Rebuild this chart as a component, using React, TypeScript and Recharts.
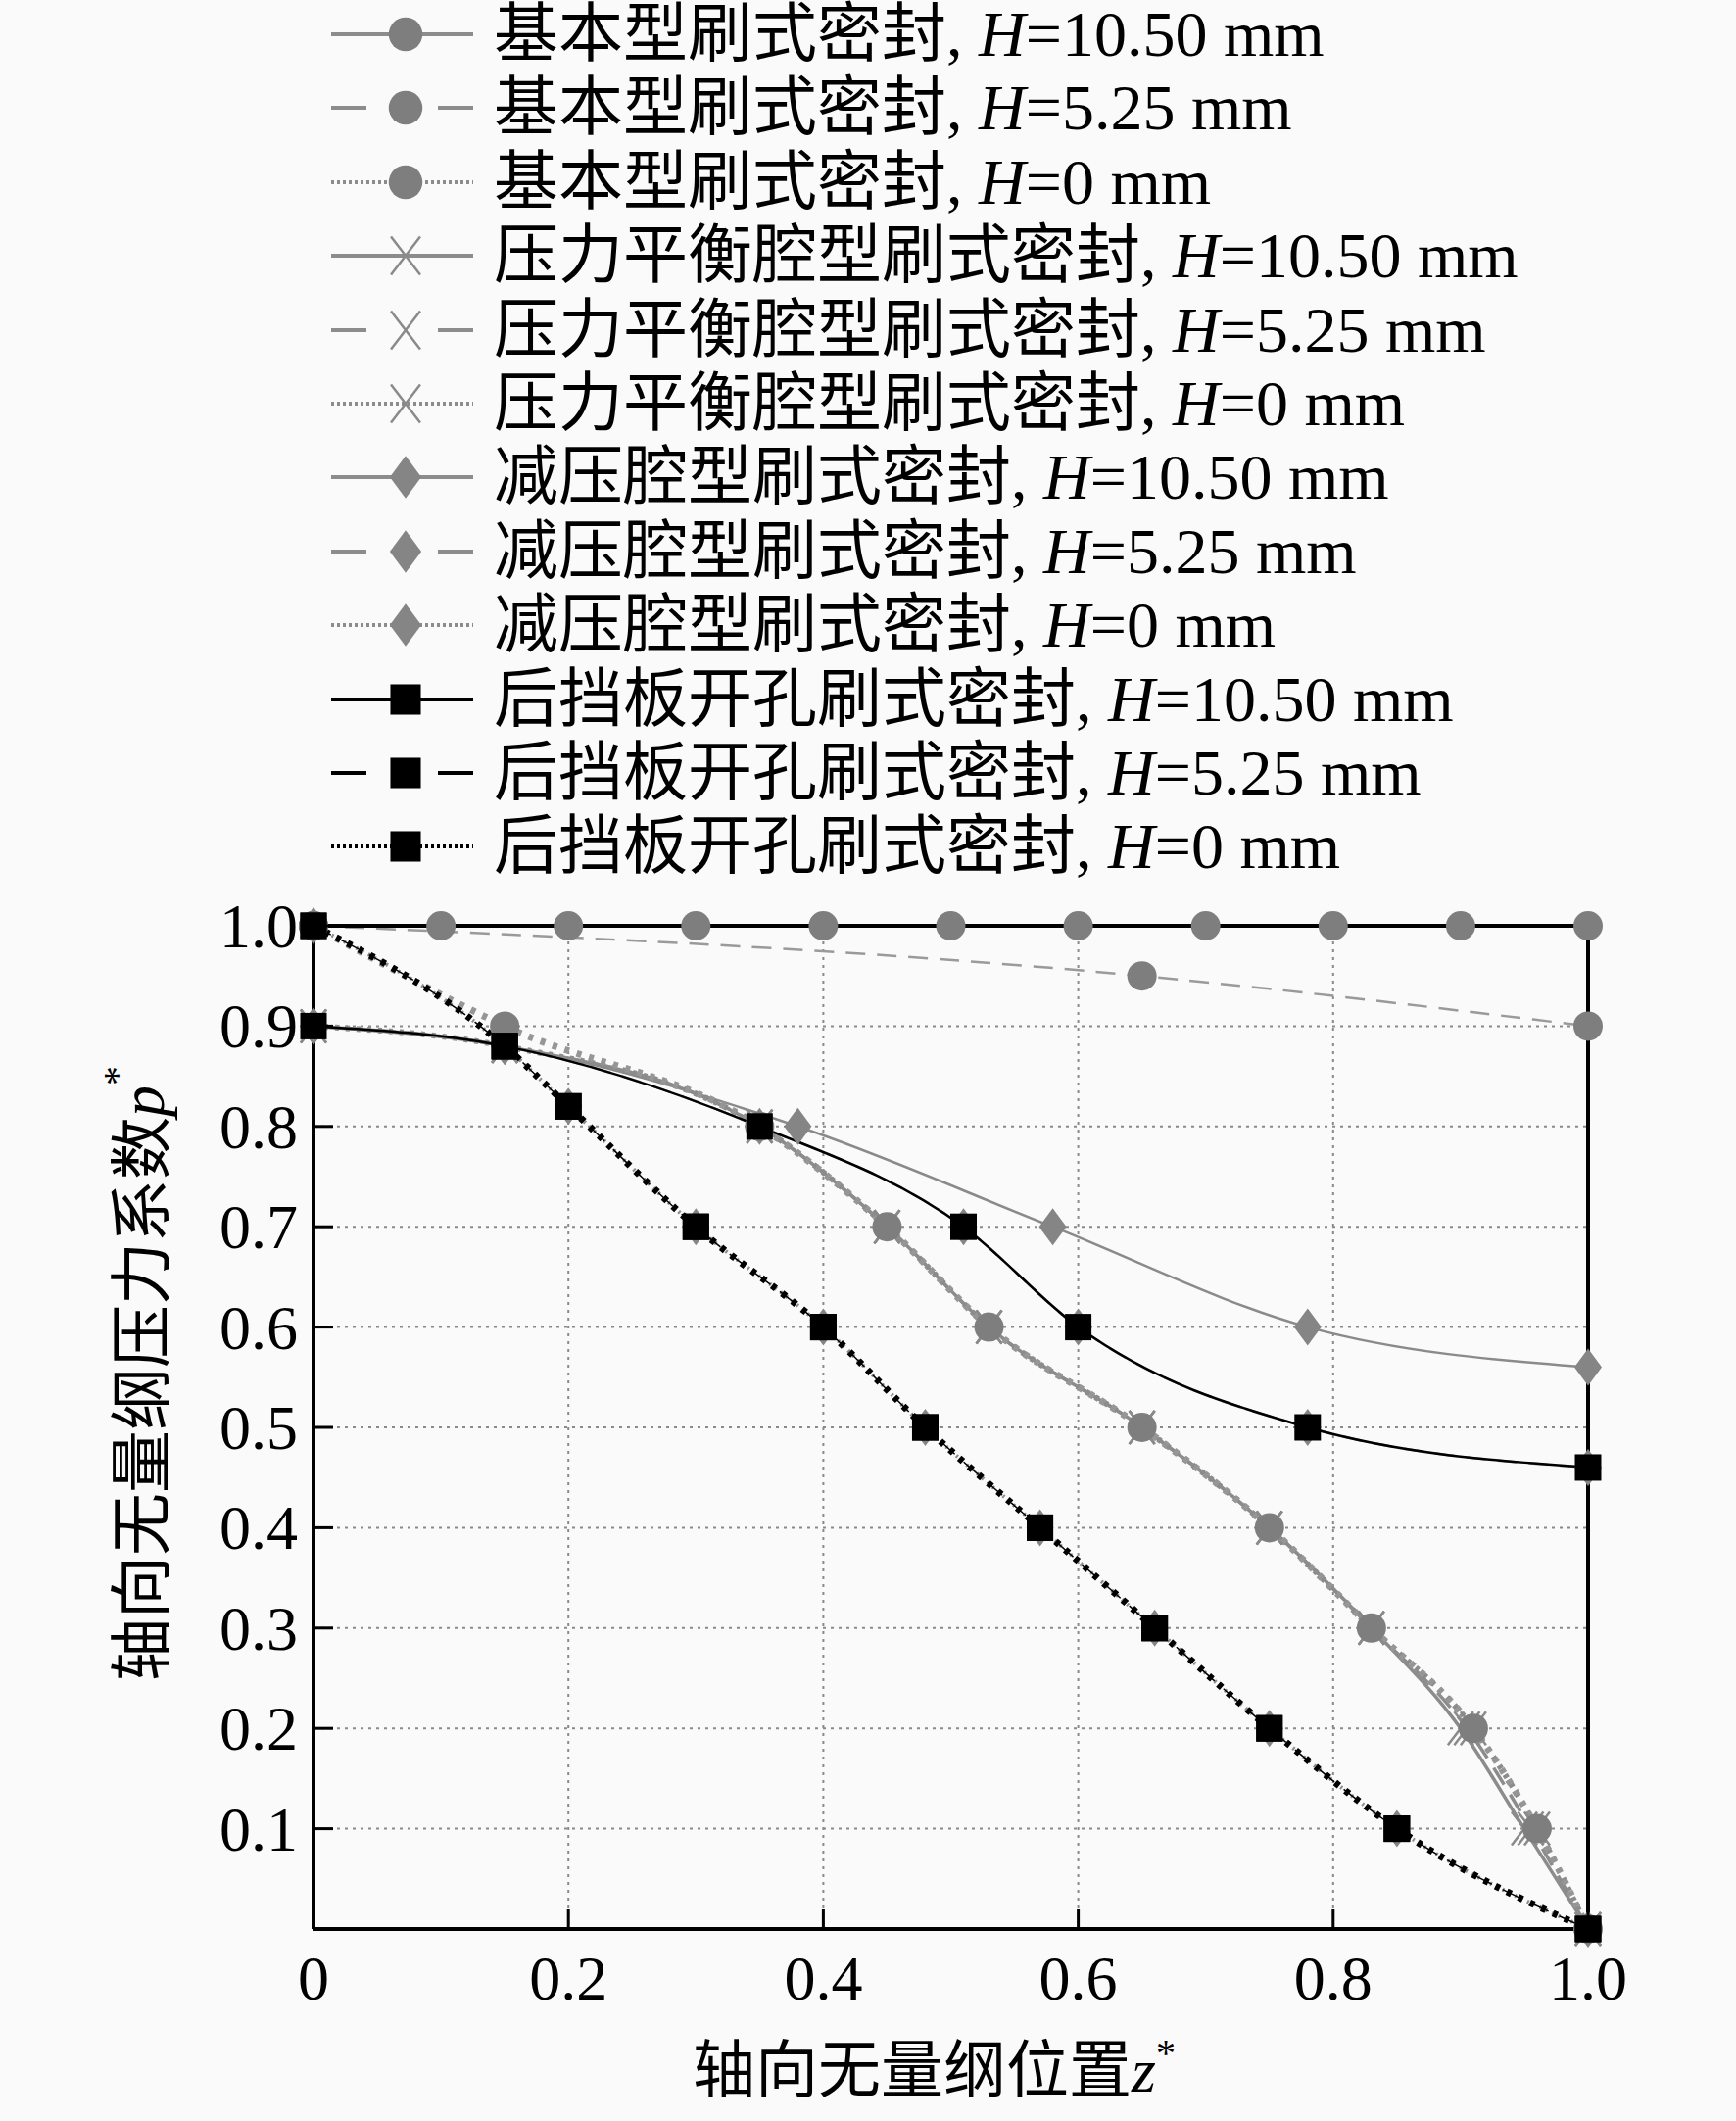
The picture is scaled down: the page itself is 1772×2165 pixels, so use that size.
import React from "react";
import {
  CartesianGrid,
  Label,
  Line,
  LineChart,
  ReferenceLine,
  XAxis,
  YAxis,
} from "recharts";

const FONT = "'Liberation Serif', 'Noto Sans CJK SC', serif";
const GRAY = "#7e7e7e";
const GRAY_LINE = "#8c8c8c";
const BLACK = "#000000";

// axis ticks
const xTicks = [0, 0.2, 0.4, 0.6, 0.8, 1.0];
const yTicks = [0.1, 0.2, 0.3, 0.4, 0.5, 0.6, 0.7, 0.8, 0.9, 1.0];

// 基本型刷式密封
const basic1050Z = [0, 0.1, 0.2, 0.3, 0.4, 0.5, 0.6, 0.7, 0.8, 0.9, 1.0];
const basic1050P = [1, 1, 1, 1, 1, 1, 1, 1, 1, 1, 1];
const basic525Z = [0, 0.65, 1.0];
const basic525P = [1, 0.95, 0.9];
const basic0Z = [0, 0.15, 0.35, 0.45, 0.53, 0.65, 0.75, 0.83, 0.91, 0.96, 1.0];
const basic0P = [1, 0.9, 0.8, 0.7, 0.6, 0.5, 0.4, 0.3, 0.2, 0.1, 0];

// 压力平衡腔型刷式密封
const balance1050Z = [0, 0.15, 0.35, 0.45, 0.53, 0.65, 0.75, 0.83, 0.9, 0.95, 1.0];
const balance1050P = [0.9, 0.88, 0.8, 0.7, 0.6, 0.5, 0.4, 0.3, 0.2, 0.1, 0];
const balance525Z = [0, 0.15, 0.35, 0.45, 0.53, 0.65, 0.75, 0.83, 0.905, 0.955, 1.0];
const balance525P = [0.9, 0.88, 0.8, 0.7, 0.6, 0.5, 0.4, 0.3, 0.2, 0.1, 0];
const balance0Z = [0, 0.15, 0.35, 0.45, 0.53, 0.65, 0.75, 0.83, 0.91, 0.96, 1.0];
const balance0P = [0.9, 0.88, 0.8, 0.7, 0.6, 0.5, 0.4, 0.3, 0.2, 0.1, 0];

// 减压腔型刷式密封
const relief1050Z = [0, 0.15, 0.38, 0.58, 0.78, 1.0];
const relief1050P = [0.9, 0.88, 0.8, 0.7, 0.6, 0.56];
const relief525Z = [0, 0.15, 0.35, 0.51, 0.6, 0.78, 1.0];
const relief525P = [0.9, 0.88, 0.8, 0.7, 0.6, 0.5, 0.46];
const relief0Z = [0, 0.15, 0.2, 0.3, 0.4, 0.48, 0.57, 0.66, 0.75, 0.85, 1.0];
const relief0P = [1, 0.88, 0.82, 0.7, 0.6, 0.5, 0.4, 0.3, 0.2, 0.1, 0];

// 后挡板开孔刷式密封
const hole1050Z = [0, 0.15, 0.35, 0.51, 0.6, 0.78, 1.0];
const hole1050P = [0.9, 0.88, 0.8, 0.7, 0.6, 0.5, 0.46];
const hole525Z = [0, 0.15, 0.2, 0.3, 0.4, 0.48, 0.57, 0.66, 0.75, 0.85, 1.0];
const hole525P = [1, 0.88, 0.82, 0.7, 0.6, 0.5, 0.4, 0.3, 0.2, 0.1, 0];
const hole0Z = [0, 0.15, 0.2, 0.3, 0.4, 0.48, 0.57, 0.66, 0.75, 0.85, 1.0];
const hole0P = [1, 0.88, 0.82, 0.7, 0.6, 0.5, 0.4, 0.3, 0.2, 0.1, 0];

const toPoints = (zs: number[], ps: number[]) => zs.map((z, i) => ({ z, p: ps[i] }));

type Kind = "circle" | "cross" | "diamond" | "square";
type Style = "solid" | "dashed" | "dotted";

interface Series {
  id: string;
  seal: string;
  h: string;
  data: { z: number; p: number }[];
  kind: Kind;
  style: Style;
  color: string;
  width: number;
}

const series: Series[] = [
  { id: "basic1050", seal: "基本型刷式密封", h: "10.50", data: toPoints(basic1050Z, basic1050P), kind: "circle", style: "solid", color: GRAY_LINE, width: 2.5 },
  { id: "basic525", seal: "基本型刷式密封", h: "5.25", data: toPoints(basic525Z, basic525P), kind: "circle", style: "dashed", color: "#9a9a9a", width: 2.5 },
  { id: "basic0", seal: "基本型刷式密封", h: "0", data: toPoints(basic0Z, basic0P), kind: "circle", style: "dotted", color: "#969696", width: 7 },
  { id: "balance1050", seal: "压力平衡腔型刷式密封", h: "10.50", data: toPoints(balance1050Z, balance1050P), kind: "cross", style: "solid", color: GRAY_LINE, width: 3.5 },
  { id: "balance525", seal: "压力平衡腔型刷式密封", h: "5.25", data: toPoints(balance525Z, balance525P), kind: "cross", style: "dashed", color: GRAY_LINE, width: 3.5 },
  { id: "balance0", seal: "压力平衡腔型刷式密封", h: "0", data: toPoints(balance0Z, balance0P), kind: "cross", style: "dotted", color: GRAY_LINE, width: 6 },
  { id: "relief1050", seal: "减压腔型刷式密封", h: "10.50", data: toPoints(relief1050Z, relief1050P), kind: "diamond", style: "solid", color: "#8a8a8a", width: 2.5 },
  { id: "relief525", seal: "减压腔型刷式密封", h: "5.25", data: toPoints(relief525Z, relief525P), kind: "diamond", style: "dashed", color: GRAY_LINE, width: 2.5 },
  { id: "relief0", seal: "减压腔型刷式密封", h: "0", data: toPoints(relief0Z, relief0P), kind: "diamond", style: "dotted", color: GRAY_LINE, width: 4 },
  { id: "hole1050", seal: "后挡板开孔刷式密封", h: "10.50", data: toPoints(hole1050Z, hole1050P), kind: "square", style: "solid", color: BLACK, width: 2.5 },
  { id: "hole525", seal: "后挡板开孔刷式密封", h: "5.25", data: toPoints(hole525Z, hole525P), kind: "square", style: "dashed", color: BLACK, width: 1.5 },
  { id: "hole0", seal: "后挡板开孔刷式密封", h: "0", data: toPoints(hole0Z, hole0P), kind: "square", style: "dotted", color: BLACK, width: 7 },
];

// draw gray first, black squares last
const drawOrder = [
  "balance1050", "balance525", "balance0",
  "relief525", "relief0", "relief1050",
  "basic1050", "basic525", "basic0",
  "hole525", "hole0", "hole1050",
];

const dashFor = (style: Style, width: number) =>
  style === "dashed" ? "20 12" : style === "dotted" ? `${width - 2} ${width + 1}` : undefined;

function Marker({ kind, cx, cy, big }: { kind: Kind; cx: number; cy: number; big?: boolean }) {
  const k = big ? 1.15 : 1;
  if (kind === "circle") return <circle cx={cx} cy={cy} r={15 * k} fill={GRAY} />;
  if (kind === "square") {
    const s = 13.5 * k;
    return <rect x={cx - s} y={cy - s} width={2 * s} height={2 * s} fill={BLACK} />;
  }
  if (kind === "diamond") {
    const w = 14 * k;
    const h = 19 * k;
    return (
      <polygon
        points={`${cx},${cy - h} ${cx + w},${cy} ${cx},${cy + h} ${cx - w},${cy}`}
        fill="#858585"
      />
    );
  }
  const w = 13 * k;
  const h = 17 * k;
  return (
    <g stroke="#8a8a8a" strokeWidth={2.5}>
      <line x1={cx - w} y1={cy - h} x2={cx + w} y2={cy + h} />
      <line x1={cx - w} y1={cy + h} x2={cx + w} y2={cy - h} />
    </g>
  );
}

const makeDot = (kind: Kind) => (props: any) => {
  const { cx, cy, index } = props;
  if (cx == null || cy == null) return <g key={index} />;
  return <Marker key={index} kind={kind} cx={cx} cy={cy} />;
};

const xLabel = (v: number) => (v === 0 ? "0" : v.toFixed(1));

function BottomTick(props: any) {
  const { x, y, payload } = props;
  return (
    <g>
      <line x1={x} y1={y} x2={x} y2={y - 20} stroke={BLACK} strokeWidth={3} />
      <text x={x} y={y + 72} textAnchor="middle" fontSize={64} fontFamily={FONT} fill={BLACK}>
        {xLabel(payload.value)}
      </text>
    </g>
  );
}

function TopTick(props: any) {
  const { x, y } = props;
  return <line x1={x} y1={y} x2={x} y2={y + 20} stroke={BLACK} strokeWidth={3} />;
}

function LeftTick(props: any) {
  const { x, y, payload } = props;
  return (
    <g>
      <line x1={x} y1={y} x2={x + 20} y2={y} stroke={BLACK} strokeWidth={3} />
      <text x={x - 16} y={y + 22} textAnchor="end" fontSize={64} fontFamily={FONT} fill={BLACK}>
        {payload.value.toFixed(1)}
      </text>
    </g>
  );
}

function RightTick(props: any) {
  const { x, y } = props;
  return <line x1={x} y1={y} x2={x - 20} y2={y} stroke={BLACK} strokeWidth={3} />;
}

function XTitle(props: any) {
  const vb = props.viewBox;
  return (
    <text x={vb.x + vb.width / 2 - 17} y={vb.y + 166} textAnchor="middle" fontSize={64} fontFamily={FONT} fill={BLACK}>
      轴向无量纲位置
      <tspan fontStyle="italic">z</tspan>
      <tspan dy={-26} fontSize={40}>*</tspan>
    </text>
  );
}

function YTitle(props: any) {
  const vb = props.viewBox;
  const cx = vb.x - 55;
  const cy = vb.y + vb.height / 2 - 55;
  return (
    <text
      x={cx}
      y={cy}
      transform={`rotate(-90 ${cx} ${cy})`}
      textAnchor="middle"
      dominantBaseline="central"
      fontSize={64}
      fontFamily={FONT}
      fill={BLACK}
    >
      轴向无量纲压力系数
      <tspan fontStyle="italic">p</tspan>
      <tspan dy={-26} fontSize={40}>*</tspan>
    </text>
  );
}

function LegendIcon({ s }: { s: Series }) {
  const lineColor = s.color === BLACK ? BLACK : GRAY_LINE;
  let line: React.ReactNode;
  if (s.style === "solid") {
    line = <line x1={8} y1={38} x2={153} y2={38} stroke={lineColor} strokeWidth={4} />;
  } else if (s.style === "dashed") {
    line = (
      <g stroke={lineColor} strokeWidth={4}>
        <line x1={8} y1={38} x2={44} y2={38} />
        <line x1={117} y1={38} x2={153} y2={38} />
      </g>
    );
  } else {
    line = <line x1={8} y1={38} x2={153} y2={38} stroke={lineColor} strokeWidth={4} strokeDasharray="3 3" />;
  }
  return (
    <svg width={170} height={76} style={{ position: "absolute", left: 330, top: 0 }}>
      {line}
      <Marker kind={s.kind} cx={84} cy={38} big />
    </svg>
  );
}

export default function App() {
  const byId = (id: string) => series.find((s) => s.id === id)!;
  return (
    <div style={{ position: "absolute", left: 0, top: 0, width: 1772, height: 2165, background: "#fafafa" }}>
      <LineChart width={1772} height={2165} margin={{ top: 945, right: 151, bottom: 116, left: 200 }}>
        <CartesianGrid stroke="#8a8a8a" strokeWidth={2} strokeDasharray="3 5" />
        <XAxis
          type="number"
          dataKey="z"
          domain={[0, 1]}
          ticks={xTicks}
          height={80}
          tickSize={0}
          tickMargin={0}
          tick={<BottomTick />}
          tickLine={false}
          axisLine={{ stroke: BLACK, strokeWidth: 4 }}
        >
          <Label content={<XTitle />} />
        </XAxis>
        <XAxis
          xAxisId="top"
          orientation="top"
          type="number"
          dataKey="z"
          domain={[0, 1]}
          ticks={xTicks}
          height={0}
          tickSize={0}
          tickMargin={0}
          tick={<TopTick />}
          tickLine={false}
          axisLine={false}
        />
        <YAxis
          type="number"
          domain={[0, 1]}
          ticks={yTicks}
          width={120}
          tickSize={0}
          tickMargin={0}
          tick={<LeftTick />}
          tickLine={false}
          axisLine={{ stroke: BLACK, strokeWidth: 4 }}
        >
          <Label content={<YTitle />} />
        </YAxis>
        <YAxis
          yAxisId="right"
          orientation="right"
          type="number"
          domain={[0, 1]}
          ticks={yTicks}
          width={0}
          tickSize={0}
          tickMargin={0}
          tick={<RightTick />}
          tickLine={false}
          axisLine={false}
        />
        {drawOrder.map((id) => {
          const s = byId(id);
          return (
            <Line
              key={s.id}
              data={s.data}
              dataKey="p"
              type="monotone"
              stroke={s.color}
              strokeWidth={s.width}
              strokeDasharray={dashFor(s.style, s.width)}
              dot={makeDot(s.kind)}
              activeDot={false}
              legendType="none"
              isAnimationActive={false}
            />
          );
        })}
        <ReferenceLine y={1} stroke={BLACK} strokeWidth={4} ifOverflow="visible" />
        <ReferenceLine x={1} stroke={BLACK} strokeWidth={4} ifOverflow="visible" />
      </LineChart>
      {series.map((s, i) => (
        <div
          key={s.id}
          style={{ position: "absolute", left: 0, top: 35 + 75.4 * i - 38, height: 76, width: 1772 }}
        >
          <LegendIcon s={s} />
          <div
            style={{
              position: "absolute",
              left: 504,
              top: 0,
              lineHeight: "76px",
              fontSize: 66,
              fontFamily: FONT,
              whiteSpace: "nowrap",
              color: BLACK,
            }}
          >
            {s.seal}, <i>H</i>={s.h} mm
          </div>
        </div>
      ))}
    </div>
  );
}
